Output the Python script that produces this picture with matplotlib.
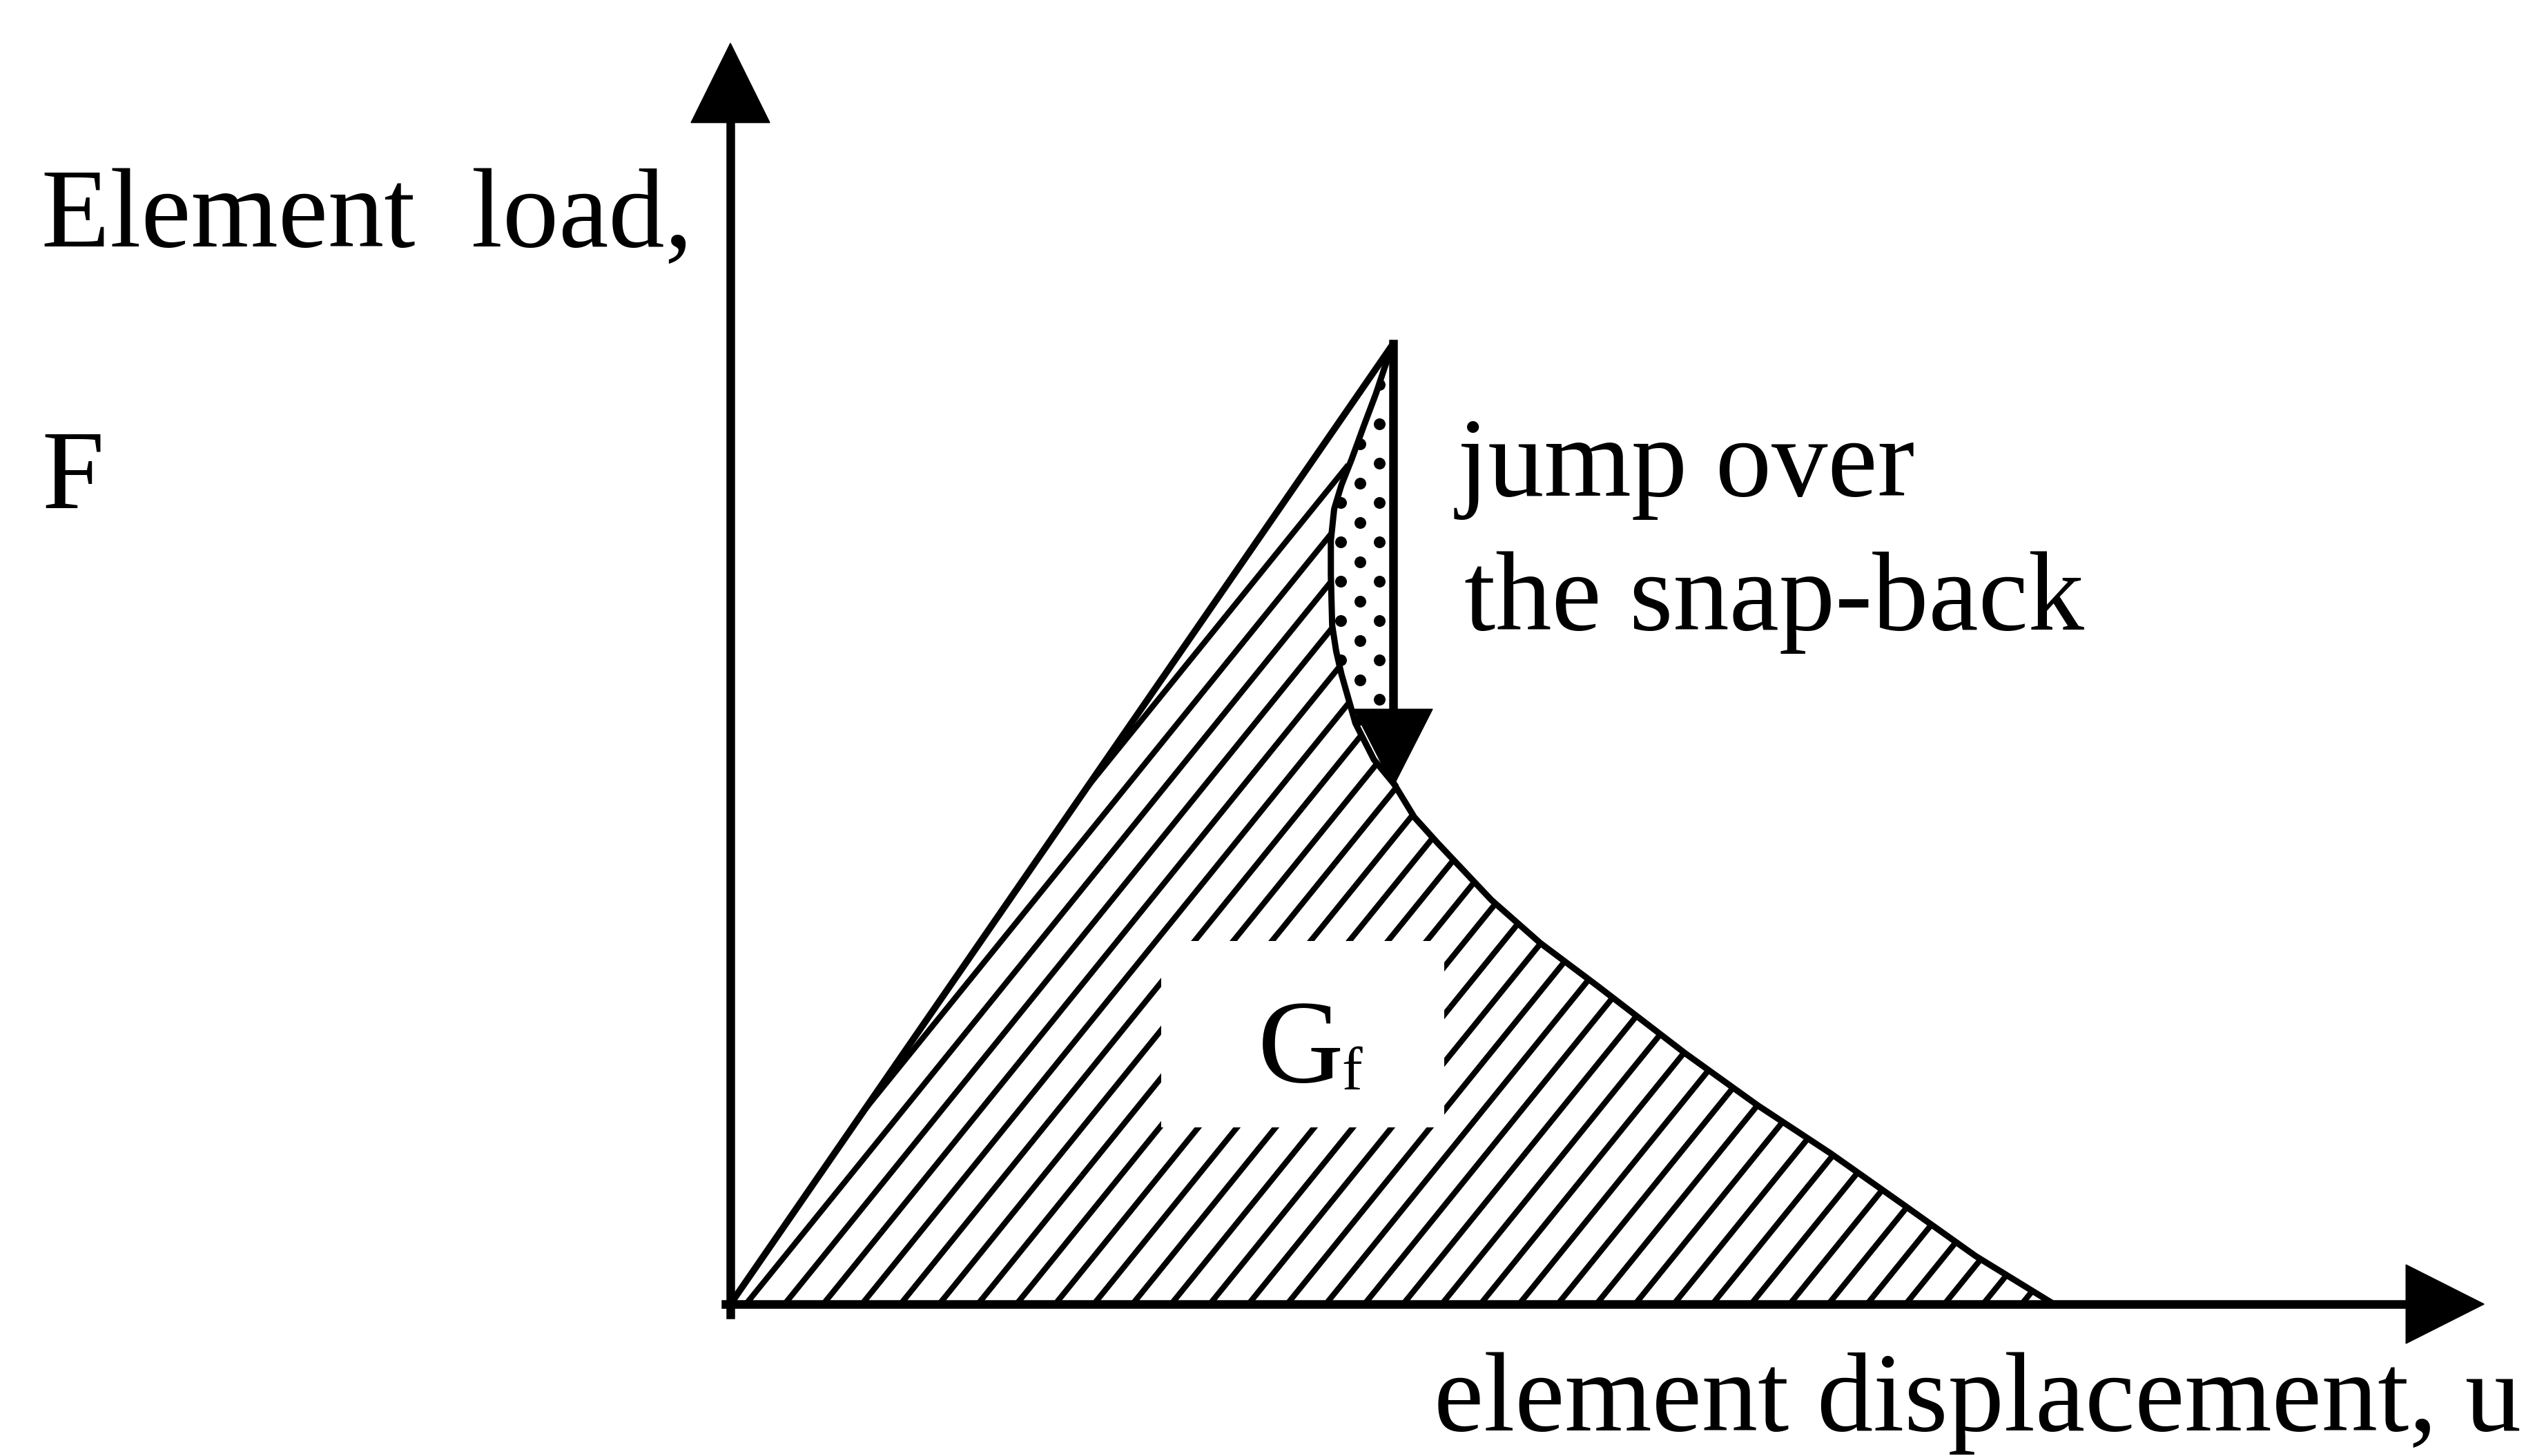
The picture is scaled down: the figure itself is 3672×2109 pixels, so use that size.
import numpy as np
import matplotlib.pyplot as plt
from matplotlib.patches import Polygon, Rectangle
from matplotlib.collections import LineCollection

plt.rcParams['font.family'] = ['Liberation Serif', 'DejaVu Serif']

# === DATA: element load F vs displacement u (peak normalised to 1, 1) ===
rise_u = [0.0, 1.0]
rise_F = [0.0, 1.0]
snap_u = [1.0, 0.987, 0.974, 0.956, 0.9375, 0.922, 0.911, 0.906, 0.906, 0.908, 0.914, 0.922, 0.943, 0.971, 1.002]
snap_F = [1.0, 0.975, 0.948, 0.915, 0.880, 0.853, 0.828, 0.795, 0.759, 0.707, 0.680, 0.656, 0.605, 0.567, 0.541]
soft_u = [1.002, 1.032, 1.068, 1.148, 1.222, 1.309, 1.441, 1.55, 1.66, 1.77, 1.879, 1.997]
soft_F = [0.541, 0.507, 0.4795, 0.421, 0.376, 0.331, 0.261, 0.207, 0.157, 0.1035, 0.050, 0.0]
u_axis_end = 2.646
F_axis_end = 1.313
jump_end_F = 0.539

# === LAYOUT (pixels) ===
W, H, DPI = 3672, 2109, 100
X0, Y0 = 1058, 1889          # origin in image pixels (from top)
SX, SY = 960.0, 1391.0       # pixels per unit of u and F

fig = plt.figure(figsize=(W / DPI, H / DPI), dpi=DPI)
ax = fig.add_axes([0, 0, 1, 1])
ax.set_xlim(-X0 / SX, (W - X0) / SX)
ax.set_ylim(-(H - Y0) / SY, Y0 / SY)
ax.axis('off')


def px(x, y):
    return x / W, 1 - y / H


def head(tip_u, tip_F, dx, dy, length=113, half=57):
    # dx, dy: pixel direction of the arrow (screen y up)
    bu, bF = tip_u - dx * length / SX, tip_F - dy * length / SY
    pu, pF = -dy * half / SX, dx * half / SY
    ax.add_patch(Polygon([[tip_u, tip_F], [bu + pu, bF + pF], [bu - pu, bF - pF]],
                         closed=True, facecolor='black', edgecolor='black', lw=1, zorder=6))


# === HATCHED AREA (G_f) ===
hatch_u = rise_u + snap_u[1:] + soft_u[1:]
hatch_F = rise_F + snap_F[1:] + soft_F[1:]
hatch_poly = Polygon(np.column_stack([hatch_u, hatch_F]), closed=True,
                     facecolor='none', edgecolor='none')
ax.add_patch(hatch_poly)

ang = np.radians(51)
L = 1600
segs = []
for x_start in np.arange(X0 - 1400, X0 + 2000, 56):
    u0 = (x_start - X0) / SX
    segs.append([(u0, -0.02), (u0 + np.cos(ang) * L / SX, -0.02 + np.sin(ang) * L / SY)])
hatch_lines = LineCollection(segs, colors='black', linewidths=6.0, zorder=2)
ax.add_collection(hatch_lines)
hatch_lines.set_clip_path(hatch_poly)

# white box behind the label
ax.add_patch(Rectangle(((1682 - X0) / SX, (Y0 - 1633) / SY), 410 / SX, 270 / SY,
                       facecolor='white', edgecolor='none', zorder=3))

# === DOTTED SNAP-BACK AREA ===
dot_poly = Polygon(np.column_stack([snap_u, snap_F]), closed=True,
                   facecolor='none', edgecolor='none')
ax.add_patch(dot_poly)
dot_u, dot_F = [], []
for k, xc in enumerate(np.arange(1886, 2060, 28)):
    shift = 0 if k % 2 == 0 else 28.5
    for yc in np.arange(500 + shift, 1150, 57):
        dot_u.append((xc - X0) / SX)
        dot_F.append((Y0 - yc) / SY)
dots = ax.scatter(dot_u, dot_F, s=150, color='black', marker='o', linewidths=0, zorder=2)
dots.set_clip_path(dot_poly)

# === CURVES ===
ax.plot(rise_u, rise_F, color='black', lw=7, zorder=4, solid_capstyle='round')
ax.plot(snap_u, snap_F, color='black', lw=6.5, zorder=4, solid_joinstyle='round')
ax.plot(soft_u, soft_F, color='black', lw=6.5, zorder=4, solid_joinstyle='round')

# === AXES WITH ARROWS ===
ax.plot([-7 / SX, u_axis_end - 100 / SX], [0, 0], color='black', lw=9, zorder=5)
ax.plot([0, 0], [-15 / SY, F_axis_end - 100 / SY], color='black', lw=9, zorder=5)
head(u_axis_end, 0, 1, 0)
head(0, F_axis_end, 0, 1, length=115)

# jump arrow
ax.plot([rise_u[-1], rise_u[-1]], [rise_F[-1], jump_end_F + 100 / SY], color='black', lw=9, zorder=5)
head(rise_u[-1], jump_end_F, 0, -1, length=112)

# === TEXT ===
fs = 117
fig.text(*px(60, 357), 'Element  load,', fontsize=fs, ha='left', va='baseline')
fig.text(*px(60, 736), 'F', fontsize=fs, ha='left', va='baseline')
fig.text(*px(2111, 718), 'jump over', fontsize=fs, ha='left', va='baseline')
fig.text(*px(2121, 912), 'the snap-back', fontsize=fs, ha='left', va='baseline')
fig.text(*px(3652, 2072), 'element displacement, u', fontsize=fs, ha='right', va='baseline')
fig.text(*px(1822, 1567), 'G', fontsize=124, ha='left', va='baseline', zorder=7)
fig.text(*px(1943, 1578), 'f', fontsize=64, ha='left', va='baseline', zorder=7)

fig.savefig('out.png', dpi=DPI, facecolor='white')
